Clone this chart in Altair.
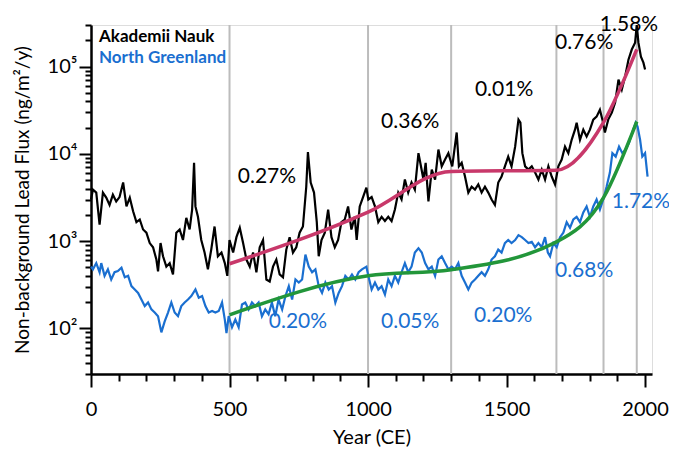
import altair as alt
import pandas as pd

# ---- Akademii Nauk (black) ----
ak_year = [0, 7, 19, 31, 43, 55, 67, 79, 91, 103, 116, 128, 140, 152, 164, 176, 188, 200, 212, 224,
           236, 242, 251, 260, 272, 284, 296, 308, 320, 332, 344, 356, 365, 372, 377, 386, 398, 410, 422, 434,
           446, 458, 471, 483, 492, 500, 513, 525, 537, 549, 561, 573, 585, 597, 609, 621, 633, 645, 657, 669,
           681, 693, 705, 717, 729, 741, 753, 765, 777, 783, 793, 805, 815, 822, 832, 844, 856, 868, 880, 892,
           904, 916, 928, 940, 952, 959, 970, 982, 994, 1001, 1013, 1025, 1037, 1049, 1061, 1073, 1085, 1097, 1109, 1121,
           1133, 1145, 1157, 1169, 1182, 1191, 1200, 1208, 1218, 1230, 1242, 1254, 1266, 1278, 1290, 1304, 1320, 1328, 1338, 1350,
           1362, 1374, 1386, 1398, 1410, 1422, 1434, 1446, 1458, 1470, 1482, 1494, 1506, 1518, 1531, 1543, 1550, 1557, 1567, 1579,
           1591, 1603, 1615, 1627, 1639, 1651, 1663, 1675, 1687, 1699, 1711, 1723, 1735, 1747, 1753, 1765, 1777, 1789, 1801, 1813,
           1825, 1837, 1846, 1855, 1867, 1880, 1892, 1904, 1916, 1928, 1940, 1952, 1964, 1970, 1976, 1985, 1994, 2000]
ak_flux = [3000, 3900, 3600, 1550, 3600, 3150, 2600, 3400, 2850, 3200, 4700, 2500, 3150, 2200, 1650, 1770, 1360, 1250, 950, 850,
           615, 450, 950, 670, 510, 560, 415, 1250, 1360, 1030, 1850, 1360, 2300, 7900, 2500, 1900, 1030, 740, 475, 800,
           1470, 670, 740, 560, 400, 1030, 740, 1110, 1420, 950, 615, 510, 740, 440, 850, 1030, 363, 345, 510, 615,
           415, 385, 800, 1110, 740, 850, 1250, 1470, 4200, 10500, 4700, 3600, 1650, 670, 1030, 1250, 2300, 1110, 850, 1030,
           1650, 1770, 2500, 1360, 1900, 1030, 2500, 3200, 4100, 3000, 3200, 2500, 1650, 1900, 1700, 1900, 1700, 2300, 3600, 3000,
           5080, 3600, 4700, 3900, 10200, 7200, 5080, 7900, 2850, 6600, 5080, 11200, 7200, 8600, 10200, 7200, 17600, 7200, 7900, 5500,
           3600, 4200, 3900, 4470, 3600, 4200, 3600, 3000, 2600, 4700, 5500, 7200, 9300, 7200, 12100, 24700, 22800, 10200, 7200, 6600,
           7200, 6100, 5080, 6600, 5080, 7200, 5500, 4470, 7200, 8600, 12100, 10200, 14500, 18950, 22800, 14500, 18950, 15800, 18950, 24700,
           26700, 32100, 24700, 17600, 24700, 29700, 38700, 71000, 54500, 77000, 120000, 157000, 188000, 300000, 188000, 130000, 111000, 92500]

# ---- North Greenland (blue) ----
ng_year = [0, 7, 19, 31, 37, 49, 61, 73, 85, 97, 110, 122, 134, 146, 158, 170, 182, 194, 206, 218,
           230, 242, 254, 266, 278, 290, 302, 314, 326, 338, 350, 362, 377, 389, 401, 413, 425, 437, 449, 461,
           473, 483, 489, 497, 509, 521, 533, 545, 557, 569, 581, 593, 605, 617, 629, 641, 653, 665, 677, 690,
           702, 714, 726, 738, 750, 762, 774, 786, 798, 810, 822, 834, 846, 858, 870, 882, 894, 906, 918, 930,
           942, 954, 966, 978, 994, 1001, 1013, 1025, 1037, 1049, 1061, 1073, 1085, 1097, 1109, 1121, 1133, 1145, 1157, 1169,
           1182, 1194, 1206, 1218, 1230, 1242, 1254, 1266, 1278, 1290, 1302, 1314, 1326, 1338, 1350, 1362, 1374, 1386, 1398, 1410,
           1422, 1434, 1446, 1458, 1470, 1482, 1494, 1506, 1518, 1531, 1543, 1555, 1567, 1579, 1591, 1603, 1615, 1627, 1639, 1649,
           1657, 1669, 1681, 1693, 1705, 1717, 1729, 1741, 1753, 1765, 1777, 1789, 1801, 1813, 1825, 1837, 1849, 1861, 1873, 1882,
           1894, 1906, 1918, 1930, 1942, 1954, 1966, 1973, 1982, 1990, 2000, 2009]
ng_flux = [510, 475, 560, 440, 560, 400, 475, 363, 440, 455, 495, 385, 400, 305, 279, 255, 214, 180, 198, 165,
           152, 138, 90, 120, 152, 198, 152, 138, 180, 198, 214, 235, 279, 225, 235, 180, 152, 158, 152, 158,
           198, 126, 88, 138, 103, 126, 103, 188, 198, 165, 198, 180, 198, 138, 165, 145, 198, 138, 214, 165,
           235, 305, 214, 363, 335, 363, 700, 510, 440, 475, 305, 255, 335, 279, 305, 198, 255, 305, 400, 363,
           415, 363, 440, 475, 510, 400, 279, 335, 279, 305, 245, 363, 305, 400, 335, 440, 560, 440, 510, 740,
           830, 740, 560, 475, 510, 400, 615, 670, 560, 475, 510, 475, 560, 400, 335, 279, 335, 363, 400, 440,
           400, 475, 615, 670, 800, 740, 950, 1030, 950, 1030, 1170, 1110, 1030, 950, 980, 850, 950, 850, 1110, 740,
           670, 950, 850, 1110, 1250, 1650, 1420, 1770, 1900, 1650, 2130, 2500, 1900, 2500, 3000, 2300, 3000, 4200, 6100, 10200,
           9300, 12100, 10200, 11200, 13400, 17600, 22800, 20500, 14500, 9300, 10200, 5500]

# ---- fitted growth segments ----
fit_year = [500, 1000, 1300, 1680, 1850, 1970]
ak_fit = [550, 2150, 6300, 6500, 23000, 158000]
ng_fit = [143, 400, 470, 980, 3150, 23500]

period_bounds = [500, 1000, 1300, 1680, 1850, 1970]

ak_rate_text = ["0.27%", "0.36%", "0.01%", "0.76%", "1.58%"]
ak_rate_year = [635, 1152, 1491, 1780, 1942]
ak_rate_flux = [5500, 23400, 54500, 188000, 300000]

ng_rate_text = ["0.20%", "0.05%", "0.20%", "0.68%", "1.72%"]
ng_rate_year = [747, 1152, 1488, 1780, 1985]
ng_rate_flux = [117, 117, 137, 460, 2840]

x_ticks = [0, 100, 200, 300, 400, 500, 600, 700, 800, 900, 1000, 1100, 1200, 1300, 1400,
           1500, 1600, 1700, 1800, 1900, 2000]
y_ticks = [30, 40, 50, 60, 70, 80, 90,
           100, 200, 300, 400, 500, 600, 700, 800, 900,
           1000, 2000, 3000, 4000, 5000, 6000, 7000, 8000, 9000,
           10000, 20000, 30000, 40000, 50000, 60000, 70000, 80000, 90000,
           100000, 200000, 300000]

BLACK = "#000000"
BLUE = "#1a6fd0"
PINK = "#c8386a"
GREEN = "#22963a"
GRAY = "#bcbcbc"
FONT = "Lato"

xscale = alt.Scale(domain=[0, 2025], nice=False, zero=False)
yscale = alt.Scale(type="log", domain=[30, 300000], nice=False)

xaxis = alt.Axis(
    values=x_ticks, grid=False, title="Year (CE)",
    labelExpr="datum.value % 500 == 0 ? '' + datum.value : ''",
    tickSize={"condition": {"test": "datum.value % 500 == 0", "value": 13}, "value": 7},
    tickWidth=2, tickColor=BLACK, domainColor=BLACK, domainWidth=2.5,
    labelFont=FONT, labelFontSize=20, labelColor=BLACK, labelPadding=12,
    labelOverlap=False, labelFlush=False,
    titleFont=FONT, titleFontSize=20, titleFontWeight="normal", titleColor=BLACK,
    titleY=69, titleBaseline="alphabetic",
)
yaxis = alt.Axis(
    values=y_ticks, grid=False, title="Non-background Lead Flux (ng/m²/y)",
    labelExpr=("datum.value == 100 ? '10²' : datum.value == 1000 ? '10³' : "
               "datum.value == 10000 ? '10⁴' : datum.value == 100000 ? '10⁵' : ''"),
    tickSize={"condition": {"test": "indexof([100, 1000, 10000, 100000], datum.value) >= 0",
                            "value": 12}, "value": 6},
    tickWidth=2, tickColor=BLACK, domainColor=BLACK, domainWidth=2.5,
    labelFont=FONT, labelFontSize=20, labelColor=BLACK, labelPadding=2,
    labelOverlap=False, labelFlush=False,
    titleFont=FONT, titleFontSize=19, titleFontWeight="normal", titleColor=BLACK,
    titleX=-63, titleY=174.5, titleAngle=270, titleAlign="center", titleBaseline="alphabetic",
)

X = alt.X("year:Q", scale=xscale, axis=xaxis)
Y = alt.Y("flux:Q", scale=yscale, axis=yaxis)

ak_df = pd.DataFrame({"year": ak_year, "flux": ak_flux})
ng_df = pd.DataFrame({"year": ng_year, "flux": ng_flux})
akfit_df = pd.DataFrame({"year": fit_year, "flux": ak_fit})
ngfit_df = pd.DataFrame({"year": fit_year, "flux": ng_fit})
bounds_df = pd.DataFrame({"year": period_bounds})
ak_txt_df = pd.DataFrame({"year": ak_rate_year, "flux": ak_rate_flux, "t": ak_rate_text})
ng_txt_df = pd.DataFrame({"year": ng_rate_year, "flux": ng_rate_flux, "t": ng_rate_text})

rules = alt.Chart(bounds_df).mark_rule(color=GRAY, strokeWidth=2).encode(x=X)
ak_line = alt.Chart(ak_df).mark_line(color=BLACK, strokeWidth=2.2).encode(x=X, y=Y)
ng_line = alt.Chart(ng_df).mark_line(color=BLUE, strokeWidth=2.2).encode(x=X, y=Y)
ak_fit_line = alt.Chart(akfit_df).mark_line(color=PINK, strokeWidth=3.5, interpolate="monotone").encode(x=X, y=Y)
ng_fit_line = alt.Chart(ngfit_df).mark_line(color=GREEN, strokeWidth=3.5, interpolate="monotone").encode(x=X, y=Y)

ak_txt = alt.Chart(ak_txt_df).mark_text(font=FONT, fontSize=21, color=BLACK, align="center",
                                        baseline="middle").encode(x=X, y=Y, text="t:N")
ng_txt = alt.Chart(ng_txt_df).mark_text(font=FONT, fontSize=21, color=BLUE, align="center",
                                        baseline="middle").encode(x=X, y=Y, text="t:N")

leg1 = alt.Chart(pd.DataFrame({"t": ["Akademii Nauk"]})).mark_text(
    font=FONT, fontSize=17, fontWeight="bold", color=BLACK, align="left", baseline="alphabetic"
).encode(x=alt.value(8), y=alt.value(17), text="t:N")
leg2 = alt.Chart(pd.DataFrame({"t": ["North Greenland"]})).mark_text(
    font=FONT, fontSize=17, fontWeight="bold", color=BLUE, align="left", baseline="alphabetic"
).encode(x=alt.value(8), y=alt.value(38), text="t:N")

chart = alt.layer(rules, ak_line, ng_line, ak_fit_line, ng_fit_line, ak_txt, ng_txt, leg1, leg2).properties(
    width=561, height=349,
    padding={"left": 83, "top": 17, "right": 17, "bottom": 73},
    autosize=alt.AutoSizeParams(type="none"),
).configure_view(stroke=None).configure(background="white")

chart.save("out.html", embed_options={"renderer": "svg", "actions": False})
